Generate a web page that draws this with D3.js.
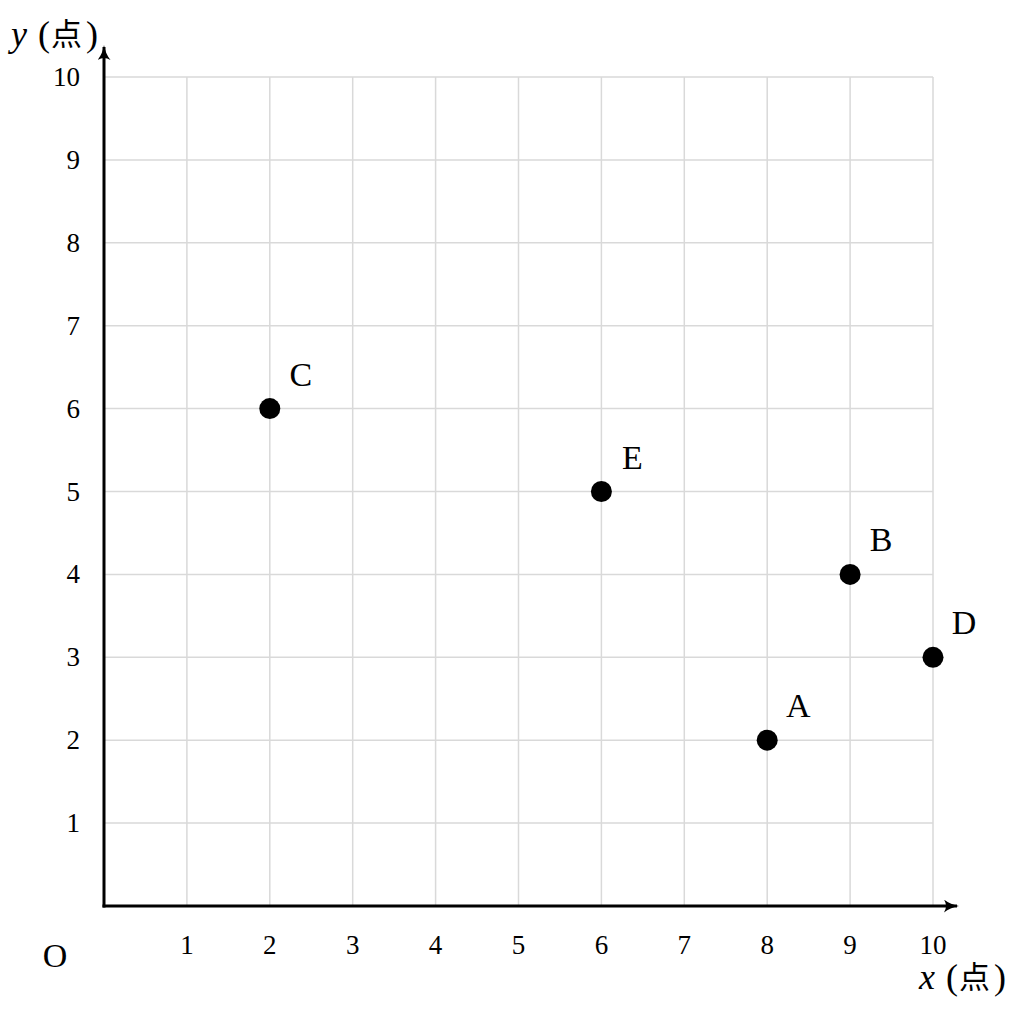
<!DOCTYPE html>
<html><head><meta charset="utf-8">
<script src="https://cdn.jsdelivr.net/npm/d3@7/dist/d3.min.js"></script>
<style>body{margin:0;background:#fff}</style>
</head><body>
<script>
const labels = ["A","B","C","D","E"];
const xValues = [8,9,2,10,6];
const yValues = [2,4,6,3,5];
const xTicks = [1,2,3,4,5,6,7,8,9,10];
const yTicks = [1,2,3,4,5,6,7,8,9,10];

const W=1024,H=1011;
const svg=d3.select("body").append("svg").attr("width",W).attr("height",H);
const x=d3.scaleLinear().domain([0,10]).range([104,933]);
const y=d3.scaleLinear().domain([0,10]).range([906,77]);
const serif="'Liberation Serif','DejaVu Serif',serif";

// grid
const g=svg.append("g");
g.selectAll(".vg").data(xTicks).join("line")
 .attr("x1",d=>x(d)).attr("x2",d=>x(d)).attr("y1",y(0)).attr("y2",y(10))
 .attr("stroke","#d9d9d9").attr("stroke-width",1.5);
g.selectAll(".hg").data(yTicks).join("line")
 .attr("x1",x(0)).attr("x2",x(10)).attr("y1",d=>y(d)).attr("y2",d=>y(d))
 .attr("stroke","#d9d9d9").attr("stroke-width",1.5);

// axes with arrows
const defs=svg.append("defs");
defs.append("marker").attr("id","ar").attr("viewBox","0 0 15 13").attr("refX",13).attr("refY",6.5)
 .attr("markerWidth",15).attr("markerHeight",13).attr("markerUnits","userSpaceOnUse").attr("orient","auto")
 .append("path").attr("d","M0,0 Q6,5 15,6.5 Q6,8 0,13 Q4,6.5 0,0 Z").attr("fill","#000");
svg.append("line").attr("x1",x(0)-1.5).attr("x2",957).attr("y1",y(0)).attr("y2",y(0))
 .attr("stroke","#000").attr("stroke-width",3).attr("marker-end","url(#ar)");
svg.append("line").attr("x1",x(0)).attr("x2",x(0)).attr("y1",y(0)+1.5).attr("y2",47)
 .attr("stroke","#000").attr("stroke-width",3).attr("marker-end","url(#ar)");

// tick labels
svg.selectAll(".xt").data(xTicks).join("text")
 .attr("x",d=>x(d)).attr("y",954).attr("text-anchor","middle")
 .attr("font-family",serif).attr("font-size",27).text(d=>d);
svg.selectAll(".yt").data(yTicks).join("text")
 .attr("x",80).attr("y",d=>y(d)+9).attr("text-anchor","end")
 .attr("font-family",serif).attr("font-size",27).text(d=>d);

svg.append("text").attr("x",55).attr("y",967).attr("text-anchor","middle")
 .attr("font-family",serif).attr("font-size",34).text("O");

// axis titles
function title(tx,ty,v){
 const t=svg.append("text").attr("y",ty).attr("font-family",serif).attr("font-size",36);
 t.append("tspan").attr("x",tx).attr("font-style","italic").text(v);
 t.append("tspan").attr("x",tx+27).attr("font-weight",300).text("(");
 t.append("tspan").attr("x",tx+40).attr("font-family","'Noto Sans CJK JP'").attr("font-size",31).attr("dy",-1).text("点");
 t.append("tspan").attr("x",tx+75).attr("dy",1).text(")");
}
title(11,46,"y");
title(919,989,"x");

// points
const pts=labels.map((l,i)=>({l,x:xValues[i],y:yValues[i]}));
svg.selectAll(".pt").data(pts).join("circle")
 .attr("cx",d=>x(d.x)).attr("cy",d=>y(d.y)).attr("r",10.5).attr("fill","#000");
svg.selectAll(".pl").data(pts).join("text")
 .attr("x",d=>x(d.x)+31).attr("y",d=>y(d.y)-23).attr("text-anchor","middle")
 .attr("font-family",serif).attr("font-size",34).text(d=>d.l);
</script>
</body></html>
